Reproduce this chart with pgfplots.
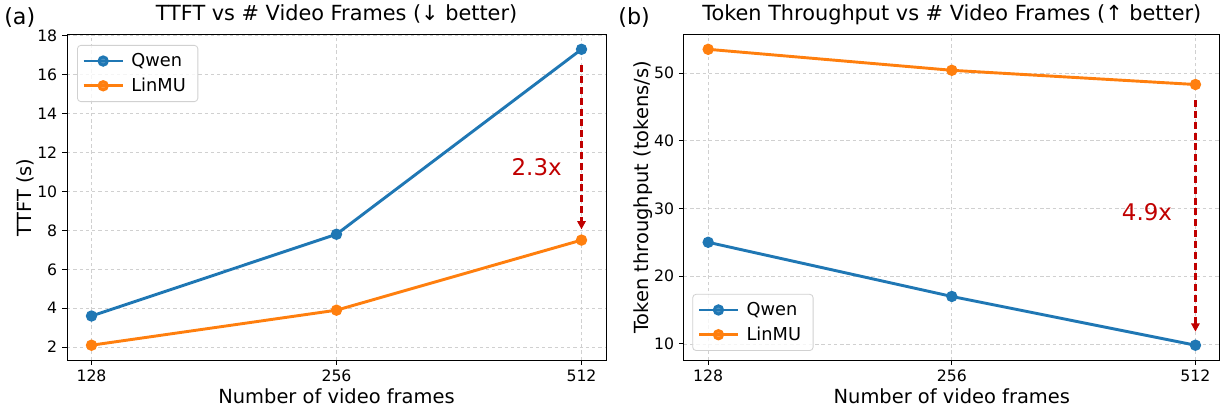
\documentclass[border=0pt]{standalone}
\usepackage{pgfplots}
\pgfplotsset{compat=1.18}
\usepackage{fontspec}
\setmainfont{DejaVu Sans}
\usetikzlibrary{arrows.meta}
\definecolor{qblue}{HTML}{1F77B4}
\definecolor{lorange}{HTML}{FF7F0E}
\definecolor{annred}{HTML}{C00000}
\definecolor{gridgray}{HTML}{D0D0D0}

\pgfplotsset{
  mystyle/.style={
    scale only axis,
    height=234.36pt,
    xmin=-0.1, xmax=2.1,
    xtick={0,1,2}, xticklabels={128,256,512},
    tick pos=left, tick align=outside,
    major tick length=3.5pt,
    tick style={black, line width=0.6pt},
    axis line style={black, line width=0.6pt},
    grid=major,
    grid style={gridgray, dash pattern=on 2.5pt off 2pt, line width=0.5pt},
    ticklabel style={font=\fontsize{11.3}{13}\selectfont},
    /pgf/number format/assume math mode=true,
    label style={font=\fontsize{14}{16}\selectfont},
    xlabel style={at={(axis description cs:0.5,0)}, anchor=base, yshift=-31pt},
    title style={font=\fontsize{15}{18}\selectfont, at={(axis description cs:0.5,1)}, anchor=base, yshift=4pt},
    legend style={font=\fontsize{12.8}{15}\selectfont, draw=black!18, rounded corners=2.5pt, fill=white, fill opacity=0.8, text opacity=1, line width=0.6pt, row sep=1.5pt, inner xsep=3.5pt, inner ysep=3.2pt, nodes={inner xsep=5.2pt, inner ysep=2.6pt}},
    legend cell align=left,
    legend image code/.code={\draw[mark repeat=2,mark phase=2] plot coordinates {(0pt,0pt)(14pt,0pt)(28pt,0pt)};},
    every axis plot/.append style={line width=2.1pt, mark=*, mark size=3pt, mark options={solid, line width=0.5pt}},
  }
}

\begin{document}
\begin{tikzpicture}
\useasboundingbox (0,0) rectangle (878.4pt,-293.04pt);
\node[anchor=base west, inner sep=0pt, font=\fontsize{16}{19}\selectfont] at (2.9pt,-17.5pt) {(a)};
\node[anchor=base west, inner sep=0pt, font=\fontsize{16}{19}\selectfont] at (445pt,-17.5pt) {(b)};

\begin{axis}[mystyle,
  at={(48.24pt,-259.2pt)}, anchor=south west,
  width=388.08pt,
  ymin=1.34, ymax=18.06,
  ytick={2,4,6,8,10,12,14,16,18},
  title={TTFT vs \# Video Frames (↓ better)},
  xlabel={Number of video frames},
  ylabel={TTFT (s)},
  ylabel style={at={(axis description cs:-0.078,0.5)}, anchor=center},
  legend style={at={(axis description cs:0,1)}, anchor=north west, xshift=7.2pt, yshift=-7.5pt},
]
\addplot[qblue, mark options={fill=qblue, draw=qblue}] coordinates {(0,3.6) (1,7.8) (2,17.3)};
\addlegendentry{Qwen}
\addplot[lorange, mark options={fill=lorange, draw=lorange}] coordinates {(0,2.1) (1,3.9) (2,7.5)};
\addlegendentry{LinMU}
\draw[annred, line width=2pt, dash pattern=on 5pt off 2.8pt, -{Triangle[width=6pt,length=6pt]}] (axis cs:2,16.48) -- (axis cs:2,8.05);
\node[annred, font=\fontsize{16.5}{19}\selectfont] at (axis cs:1.817,11.27) {2.3x};
\end{axis}

\begin{axis}[mystyle,
  at={(492.34pt,-259.2pt)}, anchor=south west,
  width=385.92pt,
  ymin=7.615, ymax=55.685,
  ytick={10,20,30,40,50},
  title={Token Throughput vs \# Video Frames (↑ better)},
  xlabel={Number of video frames},
  ylabel={Token throughput (tokens/s)},
  ylabel style={at={(axis description cs:-0.076,0.5)}, anchor=center},
  legend style={at={(axis description cs:0,0)}, anchor=south west, xshift=6.1pt, yshift=6.5pt},
]
\addplot[qblue, mark options={fill=qblue, draw=qblue}] coordinates {(0,25.0) (1,17.0) (2,9.8)};
\addlegendentry{Qwen}
\addplot[lorange, mark options={fill=lorange, draw=lorange}] coordinates {(0,53.5) (1,50.4) (2,48.3)};
\addlegendentry{LinMU}
\draw[annred, line width=2pt, dash pattern=on 5pt off 2.8pt, -{Triangle[width=6pt,length=6pt]}] (axis cs:2,46.0) -- (axis cs:2,11.8);
\node[annred, font=\fontsize{16.5}{19}\selectfont] at (axis cs:1.801,29.5) {4.9x};
\end{axis}
\end{tikzpicture}
\end{document}
